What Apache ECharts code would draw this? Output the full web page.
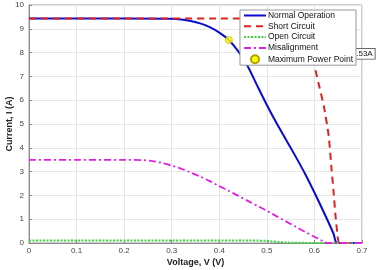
<!DOCTYPE html>
<html><head><meta charset="utf-8">
<script src="https://cdn.jsdelivr.net/npm/echarts@6/dist/echarts.min.js"></script>
<style>html,body{margin:0;padding:0;background:#fff}#c{width:376px;height:270px}</style>
</head><body><div id="c"></div>
<script>
var xTicks = [0, 0.1, 0.2, 0.3, 0.4, 0.5, 0.6, 0.7];
var yTicks = [0,1,2,3,4,5,6,7,8,9,10];

var normalV = [0, 0.1, 0.2, 0.3, 0.32, 0.34, 0.36, 0.38, 0.40, 0.42, 0.44, 0.46, 0.48, 0.50, 0.52, 0.54, 0.56, 0.58, 0.60, 0.62, 0.64, 0.648, 0.7];
var normalI = [9.43, 9.43, 9.43, 9.42, 9.39, 9.33, 9.23, 9.07, 8.84, 8.53, 8.05, 7.42, 6.6, 5.8, 5.05, 4.35, 3.65, 2.92, 2.12, 1.28, 0.4, 0, 0];

var shortV = [0, 0.2, 0.4, 0.56, 0.58, 0.59, 0.60, 0.61, 0.62, 0.63, 0.636, 0.64, 0.645, 0.65, 0.653, 0.7];
var shortI = [9.43, 9.43, 9.43, 9.43, 9.1, 8.4, 7.45, 6.6, 5.73, 4.5, 3.1, 2.2, 1.0, 0.1, 0, 0];

var openV = [0, 0.2, 0.4, 0.48, 0.50, 0.52, 0.54, 0.56, 0.60, 0.7];
var openI = [0.1, 0.1, 0.1, 0.1, 0.09, 0.05, 0.02, 0.01, 0, 0];

var misV = [0, 0.1, 0.2, 0.24, 0.26, 0.28, 0.30, 0.32, 0.34, 0.36, 0.38, 0.40, 0.42, 0.44, 0.46, 0.486, 0.50, 0.52, 0.54, 0.56, 0.58, 0.60, 0.62, 0.626, 0.7];
var misI = [3.49, 3.49, 3.49, 3.48, 3.44, 3.36, 3.25, 3.12, 2.96, 2.79, 2.6, 2.39, 2.19, 1.98, 1.77, 1.5, 1.35, 1.13, 0.91, 0.69, 0.47, 0.26, 0.05, 0, 0];

var mppV = [0.42];
var mppI = [8.53];
var tipText = '8.53A';

function pairs(xs, ys){ return xs.map(function(x,i){ return [x, ys[i]]; }); }

var FONT = 'Liberation Sans';
var chart = echarts.init(document.getElementById('c'), null, {renderer:'canvas'});
chart.setOption({
  animation: false,
  textStyle: {fontFamily: FONT},
  grid: {left: 29, right: 14, top: 5, bottom: 27, containLabel: false, outerBoundsMode: 'none', show: true, borderColor: '#a0a0a0', borderWidth: 1, backgroundColor: '#fff'},
  xAxis: {
    type: 'value', min: 0, max: 0.7, interval: 0.1,
    name: 'Voltage, V (V)', nameLocation: 'middle', nameGap: 15, nameMoveOverlap: false,
    nameTextStyle: {fontSize: 9, fontWeight: 'bold', color: '#222'},
    axisLine: {show: true, lineStyle: {color: '#8a8a8a'}},
    axisTick: {show: true, inside: true, length: 3, lineStyle: {color: '#8a8a8a'}},
    axisLabel: {fontSize: 8, color: '#444', margin: 4, formatter: function(v){ return String(+v.toFixed(1)); }},
    splitLine: {show: true, lineStyle: {color: '#e6e6e6', width: 1}}
  },
  yAxis: {
    type: 'value', min: 0, max: 10, interval: 1,
    name: 'Current, I (A)', nameLocation: 'middle', nameGap: 15, nameMoveOverlap: false,
    nameTextStyle: {fontSize: 9, fontWeight: 'bold', color: '#222'},
    axisLine: {show: true, lineStyle: {color: '#8a8a8a'}},
    axisTick: {show: true, inside: true, length: 3, lineStyle: {color: '#8a8a8a'}},
    axisLabel: {fontSize: 8, color: '#444', margin: 5},
    splitLine: {show: true, lineStyle: {color: '#e6e6e6', width: 1}}
  },
  legend: {
    z: 10,
    right: 20, top: 10, orient: 'vertical',
    backgroundColor: '#fff', borderColor: '#999', borderWidth: 1,
    padding: [1, 3, 1, 3], itemGap: 1.8, itemWidth: 22, itemHeight: 8,
    itemStyle: {opacity: 0},
    textStyle: {fontSize: 8.5, lineHeight: 9, color: '#111', padding: [0,0,0,-3]},
    data: ['Normal Operation', 'Short Circuit', 'Open Circuit', 'Misalignment',
      {name: 'Maximum Power Point', itemStyle: {opacity: 1}}]
  },
  graphic: [{
    type: 'text', z: 1, left: 349, top: 48,
    style: {text: tipText, font: '8px ' + FONT, fill: '#111', backgroundColor: '#fff', borderColor: '#444', borderWidth: 0.8, padding: [1, 2]}
  }],
  series: [
    {name: 'Normal Operation', type: 'line', data: pairs(normalV, normalI), showSymbol: false, symbol: 'none', smooth: 0.3, lineStyle: {color: '#0a0ad0', width: 2}, itemStyle: {color: '#0a0ad0'}, z: 2},
    {name: 'Short Circuit', type: 'line', data: pairs(shortV, shortI), showSymbol: false, symbol: 'none', smooth: 0.2, lineStyle: {color: '#dd2222', width: 2, type: [7, 5]}, itemStyle: {color: '#dd2222'}, z: 3},
    {name: 'Open Circuit', type: 'line', data: pairs(openV, openI), showSymbol: false, symbol: 'none', lineStyle: {color: '#3ad83a', width: 2, type: [2, 1.5]}, itemStyle: {color: '#3ad83a'}, z: 3},
    {name: 'Misalignment', type: 'line', data: pairs(misV, misI), showSymbol: false, symbol: 'none', smooth: 0.3, lineStyle: {color: '#e020e0', width: 1.8, type: [7, 3, 2, 3]}, itemStyle: {color: '#e020e0'}, z: 4},
    {name: 'Maximum Power Point', type: 'scatter', data: pairs(mppV, mppI), symbol: 'circle', symbolSize: 7, itemStyle: {color: '#ffff00', borderColor: '#b0a000', borderWidth: 0.8}, z: 5}
  ]
});
</script></body></html>
